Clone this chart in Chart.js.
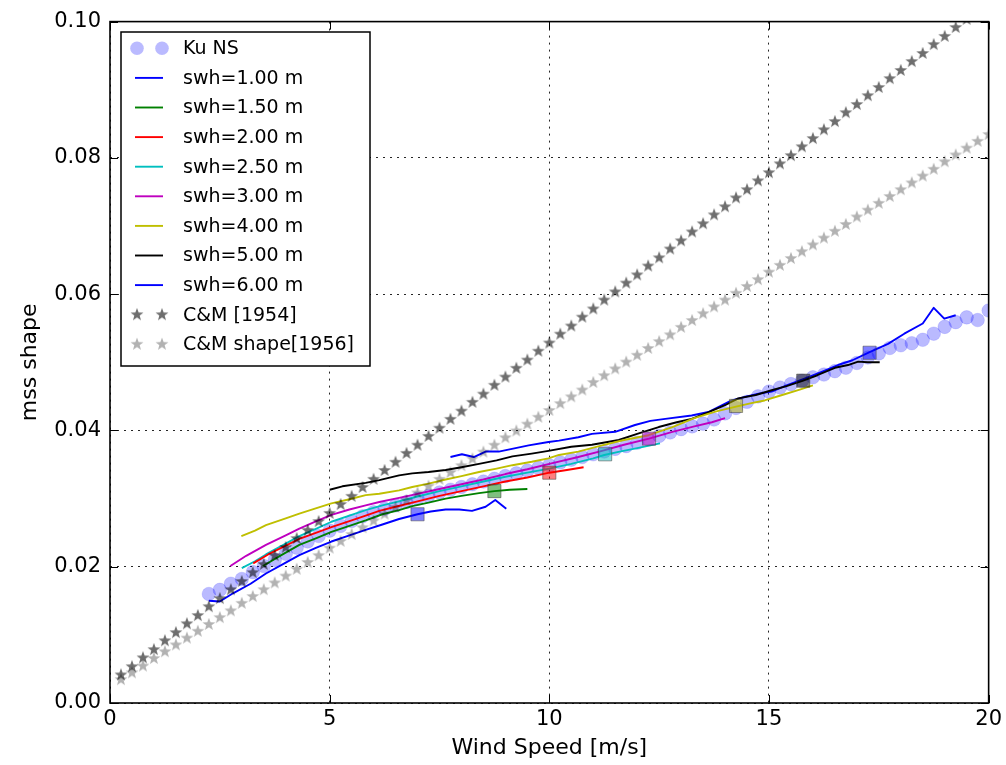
<!DOCTYPE html>
<html>
<head>
<meta charset="utf-8">
<script src="https://cdn.jsdelivr.net/npm/chart.js@4.4.1/dist/chart.umd.min.js"></script>
<style>
  html, body { margin: 0; padding: 0; background: #fff; }
  #wrap { width: 1006px; height: 765px; }
</style>
</head>
<body>
<div id="wrap"><canvas id="c" width="1006" height="765"></canvas></div>
<script>
// ---------------- data ----------------
const xTicks = [0, 5, 10, 15, 20];
const xTickLabels = ['0', '5', '10', '15', '20'];
const yTicks = [0, 0.02, 0.04, 0.06, 0.08, 0.10];
const yTickLabels = ['0.00', '0.02', '0.04', '0.06', '0.08', '0.10'];

const kuWind = [2.25,2.5,2.75,3.0,3.25,3.5,3.75,4.0,4.25,4.5,4.75,5.0,5.25,5.5,5.75,6.0,6.25,6.5,6.75,7.0,7.25,7.5,7.75,8.0,8.25,8.5,8.75,9.0,9.25,9.5,9.75,10.0,10.25,10.5,10.75,11.0,11.25,11.5,11.75,12.0,12.25,12.5,12.75,13.0,13.25,13.5,13.75,14.0,14.25,14.5,14.75,15.0,15.25,15.5,15.75,16.0,16.25,16.5,16.75,17.0,17.25,17.5,17.75,18.0,18.25,18.5,18.75,19.0,19.25,19.5,19.75,20.0];
const kuMss = [0.0160,0.0166,0.0175,0.0182,0.0192,0.0201,0.0210,0.0219,0.0228,0.0237,0.0245,0.0253,0.0260,0.0267,0.0274,0.0280,0.0285,0.0290,0.0295,0.0300,0.0304,0.0309,0.0313,0.0317,0.0321,0.0325,0.0329,0.0333,0.0337,0.0341,0.0345,0.0349,0.0353,0.0357,0.0361,0.0365,0.0369,0.0373,0.0377,0.0382,0.0387,0.0392,0.0397,0.0402,0.0406,0.0410,0.0416,0.0425,0.0433,0.0442,0.0450,0.0457,0.0463,0.0468,0.0473,0.0478,0.0482,0.0487,0.0492,0.0499,0.0507,0.0513,0.0521,0.0525,0.0528,0.0533,0.0542,0.0552,0.0559,0.0566,0.0562,0.0576];

const swh1Wind = [2.25,2.5,2.8,3.2,3.55,4.0,4.31,4.7,5.04,5.45,5.82,6.2,6.58,7.0,7.3,7.64,7.95,8.24,8.55,8.77,9.02];
const swh1Mss = [0.0150,0.0149,0.0161,0.0175,0.0190,0.0206,0.0217,0.0228,0.0237,0.0246,0.0254,0.0262,0.0270,0.0277,0.0281,0.0284,0.0284,0.0282,0.0288,0.0298,0.0285];

const swh15Wind = [3.48,3.9,4.31,4.7,5.04,5.45,5.82,6.2,6.58,6.88,7.25,7.64,8.0,8.4,8.75,9.1,9.5];
const swh15Mss = [0.0201,0.0217,0.0232,0.0242,0.0251,0.0260,0.0268,0.0277,0.0283,0.0289,0.0294,0.0300,0.0304,0.0308,0.0311,0.0313,0.0314];

const swh2Wind = [3.26,3.6,4.0,4.31,4.7,5.04,5.45,5.82,6.13,6.5,7.0,7.5,8.0,8.5,9.0,9.5,10.0,10.4,10.78];
const swh2Mss = [0.0205,0.0218,0.0231,0.0241,0.0250,0.0258,0.0267,0.0275,0.0282,0.0288,0.0296,0.0304,0.0311,0.0318,0.0325,0.0331,0.0338,0.0342,0.0346];

const swh25Wind = [3.0,3.3,3.55,4.0,4.31,4.7,5.04,5.45,5.82,6.2,6.58,7.0,7.5,8.0,8.5,9.0,9.5,10.0,10.5,11.0,11.25,11.6,12.0,12.52];
const swh25Mss = [0.0198,0.0208,0.0218,0.0234,0.0245,0.0256,0.0266,0.0275,0.0283,0.0290,0.0296,0.0303,0.0311,0.0318,0.0325,0.0332,0.0338,0.0344,0.0351,0.0359,0.0364,0.0369,0.0374,0.0381];

const swh3Wind = [2.74,3.1,3.55,4.0,4.31,4.7,5.04,5.45,5.82,6.13,6.58,7.0,7.5,8.0,8.5,9.0,9.5,10.0,10.66,11.2,11.7,12.27,12.8,13.3,13.7,14.0];
const swh3Mss = [0.0201,0.0216,0.0232,0.0246,0.0256,0.0267,0.0276,0.0284,0.0290,0.0295,0.0301,0.0307,0.0314,0.0321,0.0328,0.0336,0.0343,0.0351,0.0361,0.0370,0.0379,0.0388,0.0398,0.0406,0.0412,0.0418];

const swh4Wind = [2.99,3.3,3.55,4.0,4.31,4.7,5.04,5.45,5.82,6.13,6.58,6.88,7.25,7.64,8.0,8.4,8.8,9.16,9.6,9.98,10.22,10.66,11.2,11.7,12.26,12.8,13.3,13.8,14.25,14.6,14.9,15.3,15.7,16.0];
const swh4Mss = [0.0245,0.0253,0.0261,0.0271,0.0278,0.0286,0.0293,0.0299,0.0305,0.0307,0.0312,0.0317,0.0322,0.0328,0.0333,0.0339,0.0344,0.0349,0.0354,0.0359,0.0364,0.0369,0.0378,0.0386,0.0393,0.0405,0.0418,0.0428,0.0435,0.0440,0.0444,0.0452,0.0460,0.0466];

const swh5Wind = [5.0,5.29,5.82,6.13,6.58,6.88,7.25,7.64,8.0,8.4,8.8,9.16,9.6,9.98,10.5,10.97,11.58,12.0,12.49,12.9,13.24,13.6,14.0,14.3,14.7,15.06,15.4,15.78,16.1,16.5,16.8,17.03,17.25,17.52];
const swh5Mss = [0.0313,0.0318,0.0323,0.0327,0.0334,0.0337,0.0339,0.0342,0.0346,0.0351,0.0356,0.0362,0.0366,0.0370,0.0376,0.0379,0.0386,0.0395,0.0405,0.0412,0.0417,0.0426,0.0437,0.0447,0.0452,0.0459,0.0465,0.0473,0.0481,0.0492,0.0496,0.0501,0.0500,0.0500];

const swh6Wind = [7.75,8.01,8.28,8.55,8.85,9.15,9.53,9.98,10.22,10.66,10.97,11.5,11.95,12.3,12.64,13.24,13.62,14.15,14.5,14.76,15.06,15.4,15.81,16.2,16.57,16.9,17.29,17.71,18.08,18.5,18.75,18.99,19.25];
const swh6Mss = [0.0361,0.0365,0.0361,0.0369,0.0369,0.0373,0.0378,0.0383,0.0385,0.0390,0.0395,0.0398,0.0408,0.0414,0.0417,0.0422,0.0427,0.0444,0.0450,0.0454,0.0457,0.0466,0.0476,0.0486,0.0496,0.0503,0.0515,0.0527,0.0542,0.0557,0.0580,0.0564,0.0569];

const squareWind = [7.0, 8.75, 10.0, 11.27, 12.27, 14.25, 15.78, 17.29];
const squareMss = [0.0277, 0.0311, 0.0338, 0.0365, 0.0388, 0.0436, 0.0473, 0.0514];

const starWind = [0.25,0.5,0.75,1.0,1.25,1.5,1.75,2.0,2.25,2.5,2.75,3.0,3.25,3.5,3.75,4.0,4.25,4.5,4.75,5.0,5.25,5.5,5.75,6.0,6.25,6.5,6.75,7.0,7.25,7.5,7.75,8.0,8.25,8.5,8.75,9.0,9.25,9.5,9.75,10.0,10.25,10.5,10.75,11.0,11.25,11.5,11.75,12.0,12.25,12.5,12.75,13.0,13.25,13.5,13.75,14.0,14.25,14.5,14.75,15.0,15.25,15.5,15.75,16.0,16.25,16.5,16.75,17.0,17.25,17.5,17.75,18.0,18.25,18.5,18.75,19.0,19.25,19.5,19.75,20.0];
const cm1954Mss = [0.0042,0.0054,0.0067,0.0079,0.0092,0.0104,0.0117,0.0129,0.0142,0.0154,0.0167,0.0179,0.0192,0.0204,0.0217,0.0229,0.0242,0.0254,0.0267,0.0279,0.0292,0.0304,0.0317,0.0329,0.0342,0.0354,0.0367,0.0379,0.0392,0.0404,0.0417,0.0429,0.0442,0.0454,0.0467,0.0479,0.0492,0.0504,0.0517,0.0529,0.0542,0.0554,0.0567,0.0579,0.0592,0.0604,0.0617,0.0629,0.0642,0.0654,0.0667,0.0679,0.0692,0.0704,0.0717,0.0729,0.0742,0.0754,0.0767,0.0779,0.0792,0.0804,0.0817,0.0829,0.0842,0.0854,0.0867,0.0879,0.0892,0.0904,0.0917,0.0929,0.0942,0.0954,0.0967,0.0979,0.0992,0.1004];
const cmShape1956Mss = [0.0035,0.0045,0.0055,0.0066,0.0076,0.0086,0.0096,0.0106,0.0116,0.0126,0.0136,0.0147,0.0157,0.0167,0.0177,0.0187,0.0197,0.0207,0.0217,0.0228,0.0238,0.0248,0.0258,0.0268,0.0278,0.0288,0.0298,0.0309,0.0319,0.0329,0.0339,0.0349,0.0359,0.0369,0.0379,0.0390,0.0400,0.0410,0.0420,0.0430,0.0440,0.0450,0.0460,0.0471,0.0481,0.0491,0.0501,0.0511,0.0521,0.0531,0.0541,0.0552,0.0562,0.0572,0.0582,0.0592,0.0602,0.0612,0.0622,0.0633,0.0643,0.0653,0.0663,0.0673,0.0683,0.0693,0.0703,0.0714,0.0724,0.0734,0.0744,0.0754,0.0764,0.0774,0.0784,0.0795,0.0805,0.0815,0.0825,0.0835];

const swhLabels = ['swh=1.00 m','swh=1.50 m','swh=2.00 m','swh=2.50 m','swh=3.00 m','swh=4.00 m','swh=5.00 m','swh=6.00 m'];
const swhColors = ['#0000ff','#008000','#ff0000','#00bfbf','#bf00bf','#bfbf00','#000000','#0000ff'];
const swhSquareFill = ['rgba(0,0,255,0.5)','rgba(0,128,0,0.5)','rgba(255,0,0,0.5)','rgba(0,191,191,0.5)','rgba(191,0,191,0.5)','rgba(191,191,0,0.5)','rgba(0,0,0,0.5)','rgba(0,0,255,0.5)'];
const swhWinds = [swh1Wind, swh15Wind, swh2Wind, swh25Wind, swh3Wind, swh4Wind, swh5Wind, swh6Wind];
const swhMss = [swh1Mss, swh15Mss, swh2Mss, swh25Mss, swh3Mss, swh4Mss, swh5Mss, swh6Mss];

const kuFill = 'rgba(0,0,255,0.27)';
const darkStarColor = 'rgba(0,0,0,0.57)';
const lightStarColor = 'rgba(0,0,0,0.30)';

// ---------------- helpers ----------------
function pts(xs, ys) { return ys.map((y, i) => ({ x: xs[i], y: y })); }

function makeStar(color) {
  const s = 14;
  const cv = document.createElement('canvas');
  cv.width = s; cv.height = s;
  const c = cv.getContext('2d');
  const cx = s / 2, cy = s / 2 + 0.5, R = 6.8, r = 2.8;
  c.beginPath();
  for (let i = 0; i < 10; i++) {
    const ang = -Math.PI / 2 + i * Math.PI / 5;
    const rad = i % 2 === 0 ? R : r;
    const px = cx + rad * Math.cos(ang), py = cy + rad * Math.sin(ang);
    if (i === 0) c.moveTo(px, py); else c.lineTo(px, py);
  }
  c.closePath();
  c.fillStyle = color;
  c.fill();
  return cv;
}
const darkStar = makeStar(darkStarColor);
const lightStar = makeStar(lightStarColor);

// ---------------- datasets ----------------
const datasets = [];
datasets.push({
  label: 'Ku NS', data: pts(kuWind, kuMss), showLine: false,
  pointStyle: 'circle', pointRadius: 6.8, pointBackgroundColor: kuFill,
  pointBorderColor: 'rgba(0,0,255,0.12)', pointBorderWidth: 1, order: 20
});
swhLabels.forEach((lab, k) => {
  datasets.push({
    label: lab, data: pts(swhWinds[k], swhMss[k]), showLine: true,
    borderColor: swhColors[k], borderWidth: 1.9, pointRadius: 0, tension: 0,
    fill: false, order: 10
  });
  datasets.push({
    label: lab + ' marker', data: [{ x: squareWind[k], y: squareMss[k] }], showLine: false,
    pointStyle: 'rect', pointRadius: 9.3, pointBackgroundColor: swhSquareFill[k],
    pointBorderColor: 'rgba(60,60,60,0.5)', pointBorderWidth: 1, order: 5
  });
});
datasets.push({
  label: 'C&M [1954]', data: pts(starWind, cm1954Mss), showLine: false,
  pointStyle: darkStar, pointRadius: 7, order: 2
});
datasets.push({
  label: 'C&M shape[1956]', data: pts(starWind, cmShape1956Mss), showLine: false,
  pointStyle: lightStar, pointRadius: 7, order: 1
});

// ---------------- plugins ----------------
const FONT = '"DejaVu Sans", "Liberation Sans", sans-serif';

const framePlugin = {
  id: 'frame',
  afterDatasetsDraw(chart) {
    const { ctx, chartArea: a, scales } = chart;
    const xs = scales.x, ys = scales.y;
    ctx.save();
    ctx.strokeStyle = '#000';
    ctx.lineWidth = 1;
    const L = 8;
    xTicks.forEach(v => {
      const p = Math.round(xs.getPixelForValue(v)) + 0.5;
      ctx.beginPath();
      ctx.moveTo(p, a.bottom); ctx.lineTo(p, a.bottom - L);
      ctx.moveTo(p, a.top); ctx.lineTo(p, a.top + L);
      ctx.stroke();
    });
    yTicks.forEach(v => {
      const p = Math.round(ys.getPixelForValue(v)) + 0.5;
      ctx.beginPath();
      ctx.moveTo(a.left, p); ctx.lineTo(a.left + L, p);
      ctx.moveTo(a.right, p); ctx.lineTo(a.right - L, p);
      ctx.stroke();
    });
    ctx.lineWidth = 1.6;
    ctx.strokeRect(a.left, a.top, a.right - a.left, a.bottom - a.top);
    ctx.restore();
  }
};

const legendItems = [
  { text: 'Ku NS', kind: 'circle' },
  ...swhLabels.map((t, k) => ({ text: t, kind: 'line', color: swhColors[k] })),
  { text: 'C&M [1954]', kind: 'star', img: darkStar },
  { text: 'C&M shape[1956]', kind: 'star', img: lightStar }
];

const legendPlugin = {
  id: 'boxLegend',
  afterDraw(chart) {
    const ctx = chart.ctx;
    const bx = 121, by = 32, bw = 249, bh = 334;
    ctx.save();
    ctx.fillStyle = '#fff';
    ctx.fillRect(bx, by, bw, bh);
    ctx.strokeStyle = '#000';
    ctx.lineWidth = 1.5;
    ctx.strokeRect(bx, by, bw, bh);
    ctx.font = '19px ' + FONT;
    ctx.textBaseline = 'middle';
    ctx.textAlign = 'left';
    legendItems.forEach((it, i) => {
      const cy = 48.3 + i * 29.6;
      if (it.kind === 'circle') {
        [137, 162].forEach(cx => {
          ctx.beginPath();
          ctx.arc(cx, cy, 6.8, 0, Math.PI * 2);
          ctx.fillStyle = kuFill;
          ctx.fill();
        });
      } else if (it.kind === 'line') {
        ctx.beginPath();
        ctx.strokeStyle = it.color;
        ctx.lineWidth = 1.9;
        ctx.moveTo(135, cy); ctx.lineTo(163, cy);
        ctx.stroke();
      } else {
        [137, 162].forEach(cx => ctx.drawImage(it.img, cx - 7, cy - 7.5));
      }
      ctx.fillStyle = '#000';
      ctx.fillText(it.text, 183, cy + 1);
    });
    ctx.restore();
  }
};

// ---------------- chart ----------------
new Chart(document.getElementById('c'), {
  type: 'scatter',
  data: { datasets },
  options: {
    responsive: false,
    animation: false,
    devicePixelRatio: 1,
    layout: { padding: { top: 21, right: 15, left: 0, bottom: 0 } },
    plugins: { legend: { display: false }, tooltip: { enabled: false } },
    elements: { line: { borderCapStyle: 'butt', borderJoinStyle: 'round' } },
    scales: {
      x: {
        type: 'linear', min: 0, max: 20,
        afterBuildTicks: s => { s.ticks = xTicks.map(v => ({ value: v })); },
        afterFit: s => { s.height = 62; },
        ticks: {
          callback: (v, i) => xTickLabels[i],
          color: '#000', font: { family: FONT, size: 21 }, padding: 4, maxRotation: 0
        },
        grid: { color: 'rgba(0,0,0,0.85)', lineWidth: 1, drawTicks: false },
        border: { display: false, dash: [2, 5] },
        title: {
          display: true, text: 'Wind Speed [m/s]', color: '#000',
          font: { family: FONT, size: 22 }, padding: { top: 0, bottom: 4 }
        }
      },
      y: {
        type: 'linear', min: 0, max: 0.1,
        afterBuildTicks: s => { s.ticks = yTicks.map(v => ({ value: v })); },
        afterFit: s => { s.width = 110; },
        ticks: {
          callback: (v, i) => yTickLabels[i],
          color: '#000', font: { family: FONT, size: 21 }, padding: 9
        },
        grid: { color: 'rgba(0,0,0,0.85)', lineWidth: 1, drawTicks: false },
        border: { display: false, dash: [2, 5] },
        title: {
          display: true, text: 'mss shape', color: '#000',
          font: { family: FONT, size: 22 }, padding: { top: 17, bottom: 0 }
        }
      }
    }
  },
  plugins: [framePlugin, legendPlugin]
});
</script>
</body>
</html>
